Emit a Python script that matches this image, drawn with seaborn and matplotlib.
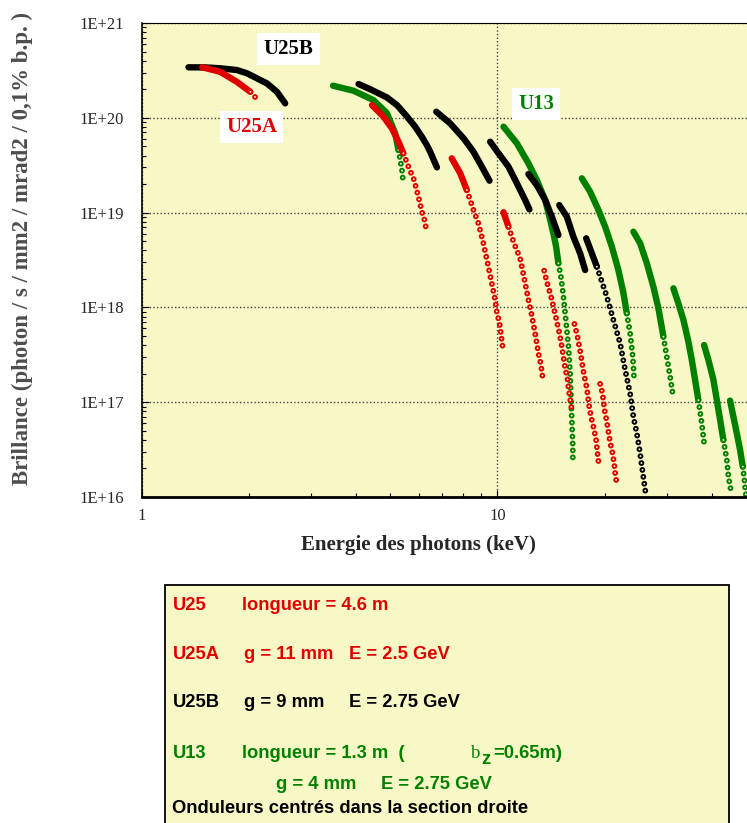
import numpy as np
import matplotlib
matplotlib.use("Agg")
import matplotlib.pyplot as plt
from matplotlib.patches import Rectangle
from matplotlib.ticker import FuncFormatter, NullFormatter
import seaborn as sns

# photon energy (keV) and brilliance, one inner list per harmonic
# *_solid = how many leading points are packed into a solid band (the rest are open dots)
u25a_energy = [
    [1.48, 1.66, 1.85, 2.02, 2.12],
    [4.44, 4.78, 5.05, 5.27, 5.44, 5.62, 5.83, 5.96, 6.06, 6.13, 6.23, 6.30],
    [7.44, 7.86, 8.20, 8.56, 8.84, 9.13, 9.43, 9.64, 9.85, 9.96, 10.13, 10.24, 10.36],
    [10.40, 10.74, 11.09, 11.58, 11.89, 12.22, 12.50, 12.76, 13.04, 13.24, 13.38],
    [13.53, 13.76, 14.15, 14.62, 14.94, 15.23, 15.50, 15.73, 15.84, 16.01, 16.19],
    [16.46, 16.79, 17.16, 17.45, 17.84, 18.14, 18.42, 18.70, 18.94, 19.10, 19.28],
    [19.44, 19.73, 20.04, 20.30, 20.51, 20.74, 21.05, 21.28, 21.47, 21.70],
]
u25a_brill = [
    [3.41e20, 3.06e20, 2.40e20, 1.88e20, 1.54e20],
    [1.36e20, 1.03e20, 7.75e19, 5.6e19, 4.22e19, 3.05e19, 2.21e19, 1.6e19, 1.25e19, 1.02e19, 8.5e18, 6.83e18],
    [3.74e19, 2.6e19, 1.73e19, 1.07e19, 7.71e18, 4.75e18, 2.69e18, 1.8e18, 1.2e18, 8.88e17, 6.9e17, 5.12e17, 3.64e17],
    [1.01e19, 7.1e18, 4.93e18, 3.3e18, 2.03e18, 1.2e18, 8.11e17, 5.33e17, 3.28e17, 2.53e17, 1.89e17],
    [2.44e18, 1.87e18, 1.3e18, 7.67e17, 5.33e17, 3.56e17, 2.28e17, 1.79e17, 1.4e17, 1.07e17, 8.27e16],
    [6.68e17, 4.91e17, 3.15e17, 2.1e17, 1.4e17, 8.62e16, 6.49e16, 5.09e16, 3.99e16, 2.96e16, 2.18e16],
    [1.56e17, 1.24e17, 7.94e16, 6.23e16, 4.88e16, 3.78e16, 2.93e16, 2.27e16, 1.68e16, 1.31e16],
]
u25a_solid = [4, 5, 3, 2, 1, 1, 1]

u25b_energy = [
    [1.354, 1.508, 1.662, 1.852, 1.975, 2.248, 2.399, 2.531],
    [4.07, 4.39, 4.89, 5.22, 5.57, 5.87, 6.13, 6.33, 6.47, 6.76],
    [6.73, 7.36, 8.03, 8.56, 9.04, 9.50],
    [9.54, 10.07, 10.74, 11.34, 11.96, 12.30],
    [12.22, 12.90, 13.62, 14.22, 14.84],
    [14.92, 15.67, 16.35, 17.08, 17.64],
    [17.76, 19.03, 20.30, 21.18, 22.13, 22.86, 23.60, 24.11, 24.65, 25.18, 25.63, 26.18],
]
u25b_brill = [
    [3.41e20, 3.40e20, 3.33e20, 3.19e20, 2.95e20, 2.31e20, 1.88e20, 1.42e20],
    [2.27e20, 2.0e20, 1.64e20, 1.36e20, 1.03e20, 8.06e19, 6.32e19, 5.16e19, 4.39e19, 3.0e19],
    [1.16e20, 8.75e19, 6.08e19, 4.39e19, 3.05e19, 2.17e19],
    [5.6e19, 4.22e19, 3.05e19, 2.04e19, 1.36e19, 1.08e19],
    [2.55e19, 1.95e19, 1.36e19, 9.06e18, 5.8e18],
    [1.2e19, 9.06e18, 5.57e18, 3.72e18, 2.48e18],
    [5.36e18, 2.69e18, 1.3e18, 7.37e17, 4.18e17, 2.19e17, 1.24e17, 7.03e16, 4.7e16, 2.89e16, 1.78e16, 1.01e16],
]
u25b_solid = [8, 10, 6, 6, 5, 5, 2]

u13_energy = [
    [3.45, 3.94, 4.48, 4.89, 5.16, 5.27, 5.33, 5.39, 5.44],
    [10.40, 11.34, 12.22, 12.90, 13.62, 14.07, 14.43, 14.62, 14.84,
     15.08, 15.33, 15.50, 15.67, 15.84, 16.01, 16.11, 16.19, 16.29, 16.29],
    [17.27, 18.22, 19.22, 20.08, 20.97, 21.88, 22.61, 23.10, 23.60, 23.96, 24.11, 24.22],
    [24.11, 25.18, 26.30, 27.44, 28.35, 29.28, 29.60, 30.58, 31.24],
    [31.24, 32.26, 33.33, 34.42, 35.19, 35.94, 36.72, 37.53, 38.10],
    [38.10, 39.18, 40.47, 41.38, 42.27, 43.17, 44.14, 44.60, 45.29],
    [45.08, 46.06, 47.09, 48.10, 48.95, 49.46, 50.0],
]
u13_brill = [
    [2.18e20, 1.93e20, 1.54e20, 1.12e20, 6.86e19, 4.57e19, 3.59e19, 2.81e19, 2.0e19],
    [8.06e19, 5.38e19, 3.31e19, 2.21e19, 1.36e19, 8.35e18, 5.57e18, 4.37e18, 2.92e18,
     2.11e18, 1.3e18, 8.67e17, 5.78e17, 3.85e17, 2.02e17, 1.07e17, 6.38e16, 3.4e16, 2.34e16],
    [2.3e19, 1.66e19, 1.07e19, 7.1e18, 4.37e18, 2.48e18, 1.41e18, 8.67e17, 5.33e17, 3.28e17, 2.41e17, 1.72e17],
    [6.29e18, 4.75e18, 2.92e18, 1.65e18, 9.79e17, 4.91e17, 3.85e17, 1.86e17, 1.1e17],
    [1.59e18, 1.1e18, 7.37e17, 4.35e17, 2.79e17, 1.72e17, 1.05e17, 5.99e16, 3.69e16],
    [4.01e17, 2.79e17, 1.72e17, 1.05e17, 6.49e16, 3.99e16, 2.46e16, 1.64e16, 1.19e16],
    [1.04e17, 7.03e16, 4.7e16, 3.13e16, 2.09e16, 1.51e16, 1.01e16],
]
u13_solid = [6, 9, 8, 6, 7, 6, 5]

BG = "#F8F8C6"
RED = "#E00000"
GREEN = "#008000"
BLACK = "#000000"

sns.set_style("ticks")
plt.rcParams["font.family"] = ["Liberation Serif", "DejaVu Serif"]
plt.rcParams["lines.scale_dashes"] = False

W, H = 747, 823
fig = plt.figure(figsize=(W / 100, H / 100), dpi=100)
ax = fig.add_axes([141.7 / W, 1 - 497 / H, (W - 141.7) / W, (497 - 23) / H])
ax.set_xscale("log")
ax.set_yscale("log")
ax.set_facecolor(BG)


def draw_arcs(energy, brill, solid, color):
    for e, b, n in zip(energy, brill, solid):
        e = np.asarray(e)
        b = np.asarray(b)
        if n > 1:
            sns.lineplot(x=e[:n], y=b[:n], ax=ax, color=color, linewidth=4.6,
                         sort=False, estimator=None, solid_capstyle="round",
                         solid_joinstyle="round")
        if n < len(e):
            # open circles: thick dotted line with a thin background dotted line on top
            for lw, c in ((4.2, color), (1.4, BG)):
                sns.lineplot(x=e[n - 1:], y=b[n - 1:], ax=ax, color=c, linewidth=lw,
                             sort=False, estimator=None)
                ln = ax.lines[-1]
                ln.set_linestyle((0, (0.01, 5.0)))
                ln.set_dash_capstyle("round")


draw_arcs(u13_energy, u13_brill, u13_solid, GREEN)
draw_arcs(u25b_energy, u25b_brill, u25b_solid, BLACK)
draw_arcs(u25a_energy, u25a_brill, u25a_solid, RED)

ax.set_xlim(1, 50.3)
ax.set_ylim(1e16, 1e21)
ax.grid(True, which="major", color="#444444", linestyle=(0, (1.0, 1.6)), linewidth=1.0)
ax.set_axisbelow(True)

ax.yaxis.set_major_formatter(FuncFormatter(lambda v, _: "1E+%d" % round(np.log10(v))))
ax.yaxis.set_minor_formatter(NullFormatter())
ax.xaxis.set_major_formatter(FuncFormatter(lambda v, _: "%g" % v))
ax.xaxis.set_minor_formatter(NullFormatter())
ax.tick_params(which="both", direction="in", top=False, right=False, color="black", width=0.8)
ax.tick_params(which="major", length=5)
ax.tick_params(which="minor", length=3)
ax.tick_params(axis="y", which="major", labelsize=12, pad=13)
ax.tick_params(axis="x", which="major", labelsize=12, pad=8)
ax.set_xlabel("")
ax.set_ylabel("")

for side in ["left", "top", "bottom", "right"]:
    ax.spines[side].set_color("black")
ax.spines["left"].set_linewidth(1.2)
ax.spines["top"].set_linewidth(0.8)
ax.spines["bottom"].set_linewidth(2.0)
ax.spines["right"].set_visible(False)

box = dict(boxstyle="square,pad=0.3", fc="white", ec="none")
ax.text(2.586, 5.29e20, "U25B", ha="center", va="center", fontsize=15,
        fontweight="bold", color=BLACK, bbox=box)
ax.text(2.035, 7.96e19, "U25A", ha="center", va="center", fontsize=15,
        fontweight="bold", color=RED, bbox=box)
ax.text(12.85, 1.405e20, "U13", ha="center", va="center", fontsize=15,
        fontweight="bold", color=GREEN, bbox=box)

fig.text(22 / W, 1 - 249 / H, "Brillance (photon / s / mm2 / mrad2 / 0,1% b.p. )",
         rotation=90, ha="center", va="center", fontsize=16.5, fontweight="bold", color="#4d4d4d")
fig.text(418.5 / W, 1 - 545 / H, "Energie des photons (keV)", ha="center", va="center",
         fontsize=15, fontweight="bold")

# description box below the chart
fig.add_artist(Rectangle((165.3 / W, 1 - 840 / H), (728.7 - 165.3) / W, (840 - 585) / H,
                         transform=fig.transFigure, fc=BG, ec="black", lw=1.3))

sans = ["Liberation Sans", "DejaVu Sans"]


def note(x, y, s, color, **kw):
    opts = dict(fontsize=13.2, fontweight="bold", family=sans)
    opts.update(kw)
    fig.text(x / W, 1 - y / H, s, color=color, ha="left", va="baseline", **opts)


note(172.4, 610.5, "U25", RED)
note(241.9, 610.5, "longueur = 4.6 m", RED)
note(172.4, 659, "U25A", RED)
note(243.9, 659, "g = 11 mm", RED)
note(349.1, 659, "E = 2.5 GeV", RED)
note(172.4, 707, "U25B", BLACK)
note(243.9, 707, "g = 9 mm", BLACK)
note(349.1, 707, "E = 2.75 GeV", BLACK)
note(172.4, 758, "U13", GREEN)
note(241.9, 758, "longueur = 1.3 m  (", GREEN)
note(470.8, 758, "b", GREEN, fontweight="normal", family=["Liberation Serif"], fontsize=13.5)
note(481.4, 764, "z", GREEN)
note(493.2, 758, "=0.65m)", GREEN)
note(276, 789, "g = 4 mm", GREEN)
note(381.3, 789, "E = 2.75 GeV", GREEN)
note(172.4, 813, "Onduleurs centrés dans la section droite", BLACK)

fig.savefig("out.png", dpi=100)
